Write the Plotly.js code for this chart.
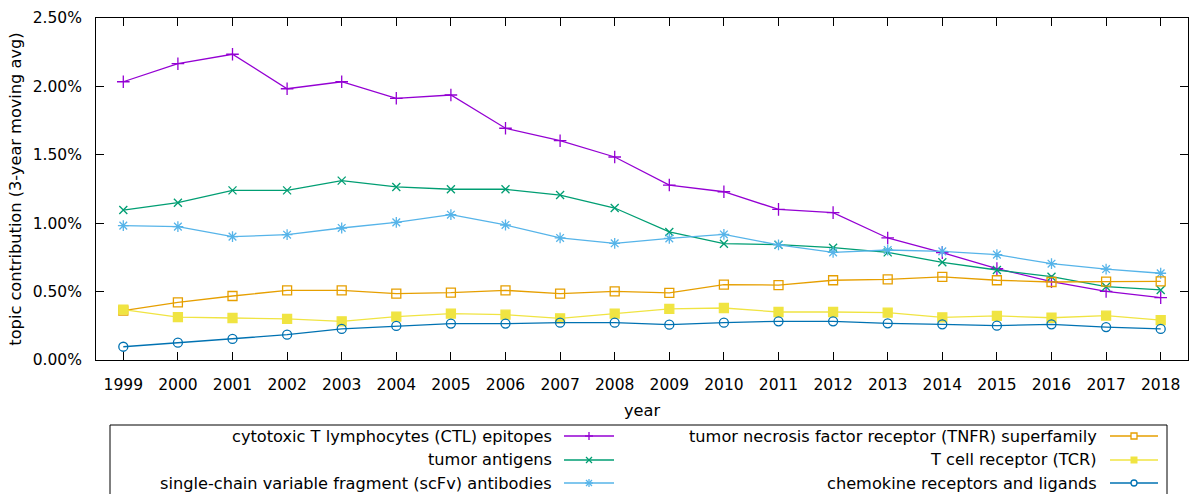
<!DOCTYPE html>
<html>
<head>
<meta charset="utf-8">
<script src="https://cdn.plot.ly/plotly-3.0.1.min.js"></script>
<style>html,body{margin:0;padding:0;background:#fff;} #chart{width:1192px;height:494px;}</style>
</head>
<body>
<div id="chart"></div>
<script>
// ---- data ----
const years = [1999,2000,2001,2002,2003,2004,2005,2006,2007,2008,2009,2010,2011,2012,2013,2014,2015,2016,2017,2018];
const seriesNames = [
  "cytotoxic T lymphocytes (CTL) epitopes",
  "tumor antigens",
  "single-chain variable fragment (scFv) antibodies",
  "tumor necrosis factor receptor (TNFR) superfamily",
  "T cell receptor (TCR)",
  "chemokine receptors and ligands"
];
const ctl      = [2.034,2.166,2.235,1.983,2.034,1.913,1.937,1.694,1.603,1.484,1.279,1.230,1.101,1.077,0.892,0.785,0.668,0.573,0.502,0.456];
const tumorAg  = [1.096,1.150,1.240,1.240,1.311,1.265,1.248,1.248,1.206,1.111,0.936,0.850,0.843,0.821,0.787,0.714,0.658,0.609,0.536,0.512];
const scfv     = [0.982,0.975,0.902,0.916,0.965,1.006,1.062,0.987,0.892,0.853,0.889,0.918,0.841,0.787,0.804,0.794,0.770,0.704,0.665,0.634];
const tnfr     = [0.361,0.421,0.468,0.509,0.509,0.485,0.492,0.509,0.485,0.502,0.490,0.551,0.548,0.583,0.590,0.607,0.583,0.570,0.573,0.575];
const tcr      = [0.368,0.314,0.307,0.300,0.283,0.317,0.339,0.331,0.305,0.339,0.373,0.380,0.351,0.351,0.346,0.312,0.322,0.309,0.324,0.292];
const chemo    = [0.097,0.127,0.154,0.185,0.227,0.249,0.266,0.266,0.273,0.273,0.258,0.273,0.283,0.283,0.268,0.261,0.251,0.261,0.241,0.227];
const yTickVals = [0,0.5,1,1.5,2,2.5];
const yTickLabels = ["0.00%","0.50%","1.00%","1.50%","2.00%","2.50%"];

// ---- styles ----
const colors = ["#9400d3","#009e73","#56b4e9","#e69f00","#f0e442","#0072b2"];
const symbols = ["cross-thin-open","x-thin-open","asterisk-open","square-open","square","circle-open"];
const msizes = [9,8,9,9,9,9];
const allSeries = [ctl,tumorAg,scfv,tnfr,tcr,chemo];
const FONT = "DejaVu Sans, sans-serif";

const traces = allSeries.map((vals,i)=>({
  x: years, y: vals, type: "scatter", mode: "lines+markers", name: seriesNames[i],
  line: {color: colors[i], width: 1.3},
  marker: {symbol: symbols[i], size: msizes[i], color: colors[i], line: {color: colors[i], width: 1.3}},
  showlegend: false, cliponaxis: false
}));

// ---- custom gnuplot-style legend (shapes + annotations) ----
const L = 96, R = 1188, T = 18, B = 360;
const px = v => (v - L) / (R - L);
const py = v => (B - v) / (B - T);
const shapes = [];
const annotations = [];
shapes.push({type:"rect", xref:"paper", yref:"paper", x0:px(110), x1:px(1167), y0:py(425), y1:py(520),
  line:{color:"#000", width:1}, fillcolor:"rgba(0,0,0,0)"});
const cols = [{textR:554, l0:564, l1:614}, {textR:1099, l0:1110, l1:1158}];
const rows = [436, 460, 483];
for (let i = 0; i < 6; i++) {
  const c = cols[Math.floor(i/3)], r = rows[i%3];
  const xc = (c.l0 + c.l1)/2;
  annotations.push({xref:"paper", yref:"paper", x:px(c.textR), y:py(r), xanchor:"right", yanchor:"middle",
    text: seriesNames[i], showarrow:false, font:{family:FONT, size:16.2, color:"#000"}});
  shapes.push({type:"line", xref:"paper", yref:"paper", x0:px(c.l0), x1:px(c.l1), y0:py(r), y1:py(r),
    line:{color:colors[i], width:1.3}});
  const base = {xref:"paper", yref:"paper", xsizemode:"pixel", ysizemode:"pixel", xanchor:px(xc), yanchor:py(r)};
  const ln = {color:colors[i], width:1.3};
  const s = 4;
  if (i === 0) {
    shapes.push(Object.assign({type:"line", x0:-s, x1:s, y0:0, y1:0, line:ln}, base));
    shapes.push(Object.assign({type:"line", x0:0, x1:0, y0:-s, y1:s, line:ln}, base));
  } else if (i === 1) {
    shapes.push(Object.assign({type:"line", x0:-3, x1:3, y0:-3, y1:3, line:ln}, base));
    shapes.push(Object.assign({type:"line", x0:-3, x1:3, y0:3, y1:-3, line:ln}, base));
  } else if (i === 2) {
    shapes.push(Object.assign({type:"line", x0:-s, x1:s, y0:0, y1:0, line:ln}, base));
    shapes.push(Object.assign({type:"line", x0:0, x1:0, y0:-s, y1:s, line:ln}, base));
    shapes.push(Object.assign({type:"line", x0:-3, x1:3, y0:-3, y1:3, line:ln}, base));
    shapes.push(Object.assign({type:"line", x0:-3, x1:3, y0:3, y1:-3, line:ln}, base));
  } else if (i === 3) {
    shapes.push(Object.assign({type:"rect", x0:-3, x1:3, y0:-3, y1:3, line:ln, fillcolor:"#fff"}, base));
  } else if (i === 4) {
    shapes.push(Object.assign({type:"rect", x0:-3.5, x1:3.5, y0:-3.5, y1:3.5, line:{color:colors[i], width:0}, fillcolor:colors[i]}, base));
  } else {
    shapes.push(Object.assign({type:"circle", x0:-3, x1:3, y0:-3, y1:3, line:ln, fillcolor:"#fff"}, base));
  }
}

const layout = {
  width: 1192, height: 494,
  margin: {l: L, r: 1192 - R, t: T, b: 494 - B},
  paper_bgcolor: "#fff", plot_bgcolor: "#fff",
  font: {family: FONT, size: 16, color: "#000"},
  showlegend: false,
  xaxis: {
    range: [1998.5, 2018.5], tickvals: years, ticktext: years.map(String),
    ticks: "inside", ticklen: 8, tickcolor: "#000", tickwidth: 1,
    showline: true, linecolor: "#000", linewidth: 1, mirror: "ticks",
    showgrid: false, zeroline: false, ticklabelstandoff: 10,
    tickfont: {family: FONT, size: 15.5},
    title: {text: "year", font: {family: FONT, size: 16.2}, standoff: 12}
  },
  yaxis: {
    range: [0, 2.5], tickvals: yTickVals, ticktext: yTickLabels,
    ticks: "inside", ticklen: 8, tickcolor: "#000", tickwidth: 1,
    showline: true, linecolor: "#000", linewidth: 1, mirror: "ticks",
    showgrid: false, zeroline: false, ticklabelstandoff: 10,
    tickfont: {family: FONT, size: 15.5},
    title: {text: "topic contribution (3-year moving avg)", font: {family: FONT, size: 16.2}, standoff: 6}
  },
  shapes: shapes,
  annotations: annotations
};

Plotly.newPlot("chart", traces, layout, {staticPlot: true, displayModeBar: false});
</script>
</body>
</html>
